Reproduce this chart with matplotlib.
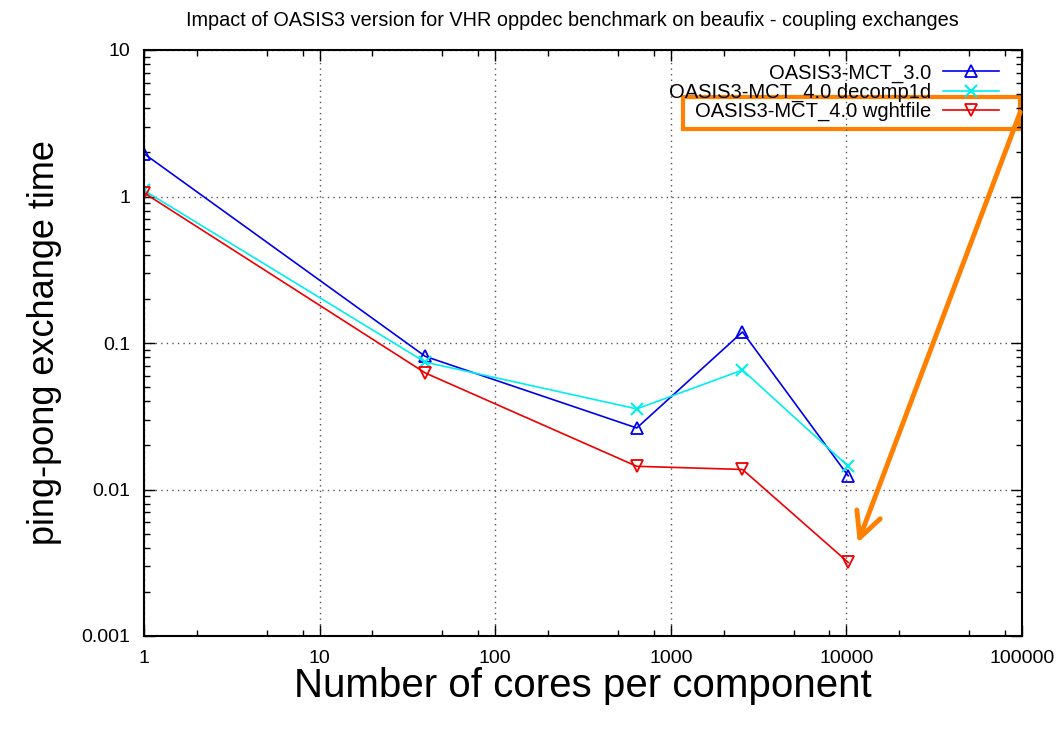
import matplotlib
matplotlib.use("Agg")
import matplotlib.pyplot as plt
from matplotlib.ticker import LogLocator, NullFormatter
from matplotlib.patches import Rectangle

plt.rcParams['font.family'] = ['Liberation Sans', 'DejaVu Sans']

cores = [1, 40, 640, 2560, 10240]
mct30 = [1.96, 0.081, 0.0263, 0.119, 0.0124]
mct40_decomp = [1.10, 0.074, 0.0355, 0.0654, 0.0144]
mct40_wght = [1.06, 0.0624, 0.0144, 0.0137, 0.00318]

labels = ["OASIS3-MCT_3.0", "OASIS3-MCT_4.0 decomp1d", "OASIS3-MCT_4.0 wghtfile"]
title = "Impact of OASIS3 version for VHR oppdec benchmark on beaufix - coupling exchanges"

fig = plt.figure(figsize=(10.6, 7.3), dpi=100)
ax = fig.add_axes([144/1060, 1-636/730, (1022-144)/1060, (636-50)/730])

ax.plot(cores, mct30, color='#0000ee', lw=1.2, marker='^', ms=8, mfc='none', mew=1.3, label=labels[0])
ax.plot(cores, mct40_decomp, color='#00eeee', lw=1.2, marker='x', ms=8, mew=1.5, label=labels[1])
ax.plot(cores, mct40_wght, color='#ee0000', lw=1.2, marker='v', ms=8, mfc='none', mew=1.3, label=labels[2])

ax.set_xscale('log')
ax.set_yscale('log')
ax.set_xlim(1, 100000)
ax.set_ylim(0.001, 10)

xt = [1, 10, 100, 1000, 10000, 100000]
yt = [0.001, 0.01, 0.1, 1, 10]
ax.set_xticks(xt)
ax.set_xticklabels(['1', '10', '100', '1000', '10000', '100000'])
ax.set_yticks(yt)
ax.set_yticklabels(['0.001', '0.01', '0.1', '1', '10'])
ax.xaxis.set_minor_locator(LogLocator(base=10, subs=(2, 5, 8)))
ax.yaxis.set_minor_locator(LogLocator(base=10, subs=tuple(range(2, 10))))
ax.xaxis.set_minor_formatter(NullFormatter())
ax.yaxis.set_minor_formatter(NullFormatter())
ax.tick_params(which='both', direction='in', top=True, right=True, labelsize=14, width=1)
ax.tick_params(which='major', length=8, pad=10)
ax.tick_params(which='minor', length=4)
for s in ax.spines.values():
    s.set_linewidth(1.5)
ax.grid(True, which='major', linestyle=(0, (1, 3)), color='#555555', lw=1)

ax.set_xlabel("Number of cores per component", fontsize=29, labelpad=0)
ax.set_ylabel("ping-pong exchange time", fontsize=26, labelpad=14)
fig.text(0.54, 0.972, title, ha='center', va='center', fontsize=14.3)

leg = ax.legend(loc='upper right', markerfirst=False, frameon=False, fontsize=14.5,
                handlelength=2.8, handletextpad=0.6, labelspacing=0.0,
                bbox_to_anchor=(0.995, 1.008), borderaxespad=0.5)
leg._legend_box.align = "right"

orange = '#ff7f00'
ax.add_patch(Rectangle((0.614, 0.865), 0.384, 0.055, transform=ax.transAxes,
                       fill=False, edgecolor=orange, lw=3, clip_on=False))
ax.annotate('', xy=(0.813, 0.159), xycoords='axes fraction',
            xytext=(0.998, 0.894), textcoords='axes fraction',
            arrowprops=dict(arrowstyle='->,head_length=0.9,head_width=0.45',
                            color=orange, lw=3.5, mutation_scale=20,
                            shrinkA=0, shrinkB=0))

fig.savefig('out.png', dpi=100)
